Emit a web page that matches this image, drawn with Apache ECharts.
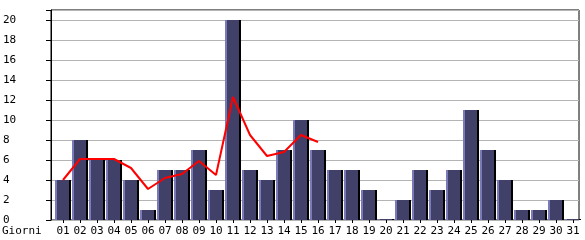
<!DOCTYPE html>
<html><head><meta charset="utf-8">
<script src="https://cdn.jsdelivr.net/npm/echarts@6/dist/echarts.min.js"></script>
<style>html,body{margin:0;padding:0;background:#fff}#c{width:585px;height:240px}</style>
</head><body><div id="c"></div>
<script>
const days = ['01','02','03','04','05','06','07','08','09','10','11','12','13','14','15','16','17','18','19','20','21','22','23','24','25','26','27','28','29','30','31'];
const visits = [4,8,6,6,4,1,5,5,7,3,20,5,4,7,10,7,5,5,3,0,2,5,3,5,11,7,4,1,1,2,0];
const trend = [4,6.1,6.1,6.1,5.2,3.1,4.2,4.6,5.9,4.5,12.3,8.5,6.4,6.8,8.5,7.8];
const xTitle = 'Giorni';
const font = 'DejaVu Sans Mono';
const chart = echarts.init(document.getElementById('c'), null, {renderer:'canvas'});
const barFill = new echarts.graphic.LinearGradient(0,0,1,0,[
  {offset:0, color:'#7a7ab8'},{offset:0.12, color:'#7a7ab8'},
  {offset:0.12, color:'#404068'},{offset:0.87, color:'#404068'},
  {offset:0.87, color:'#000'},{offset:1, color:'#000'}]);
chart.setOption({
  animation:false,
  textStyle:{fontFamily:font},
  grid:[
    {left:50, right:6, top:10, bottom:20, show:true, borderColor:'#000', borderWidth:1},
    {left:54.5, width:527, top:10, bottom:20}
  ],
  xAxis:[
    {gridIndex:0, type:'category', data:days, show:false},
    {gridIndex:1, type:'category', data:days,
     axisLine:{show:false},
     axisTick:{show:true, alignWithLabel:true, length:3, lineStyle:{color:'#000'}},
     axisLabel:{color:'#000', fontSize:11, fontFamily:font, margin:6, interval:0}}
  ],
  yAxis:[
    {gridIndex:0, type:'value', min:0, max:21, interval:2,
     axisLine:{show:true, lineStyle:{color:'#000'}},
     axisTick:{show:true, length:5, lineStyle:{color:'#000'}},
     axisLabel:{color:'#000', fontSize:11, fontFamily:font, align:'left', margin:48,
       formatter:v=> v>20 ? '' : String(v)},
     splitLine:{show:true, lineStyle:{color:'#b4b4b4', width:1}}},
    {gridIndex:1, type:'value', min:0, max:21, interval:2, show:false, splitLine:{show:false}}
  ],
  graphic:[{type:'text', left:2, top:226, style:{text:xTitle, font:'11px "DejaVu Sans Mono"', fill:'#000'}}],
  series:[
    {type:'bar', xAxisIndex:1, yAxisIndex:1, data:visits, barWidth:16, barMinHeight:1,
     itemStyle:{color:barFill}},
    {type:'line', xAxisIndex:1, yAxisIndex:1, data:trend, symbol:'none',
     lineStyle:{color:'#ff0000', width:2}, z:5}
  ]
});
</script></body></html>
